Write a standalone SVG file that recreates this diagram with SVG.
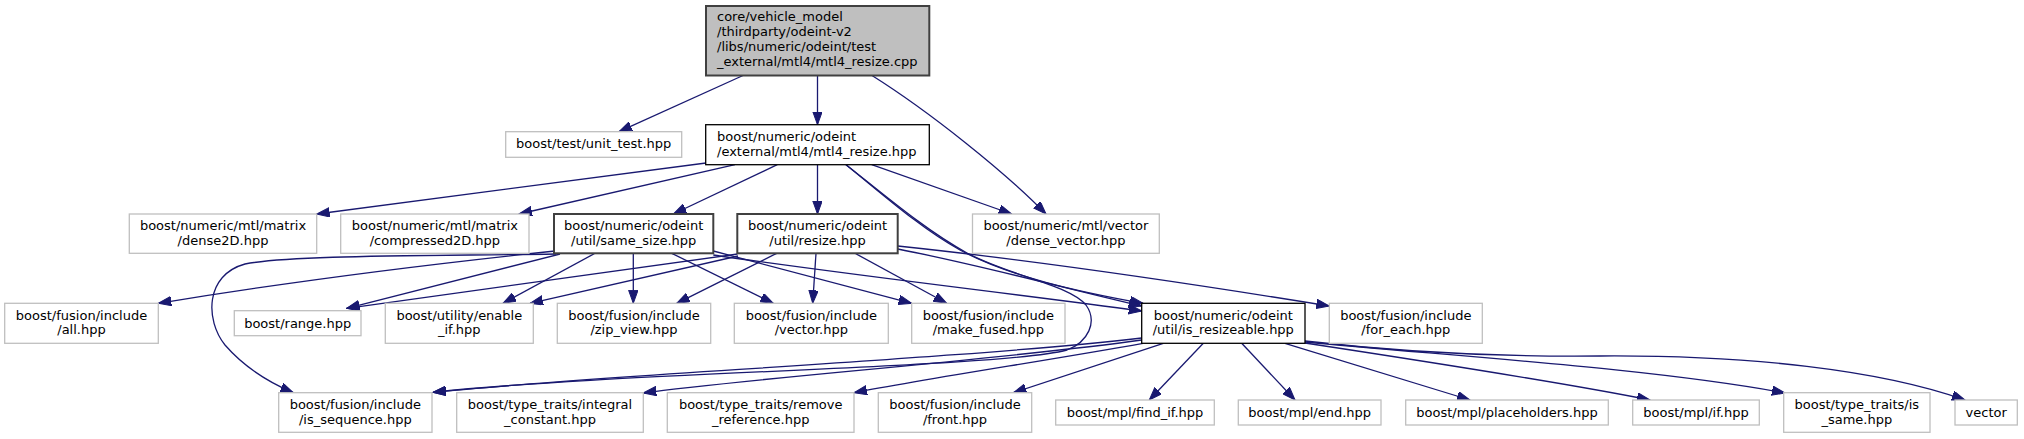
<svg xmlns="http://www.w3.org/2000/svg" width="2024" height="439" viewBox="0 0 2024 439">
<style>
text{font-family:"DejaVu Sans","Liberation Sans",sans-serif;font-size:13px;fill:#000}
.c{text-anchor:middle}
.g rect{fill:#fff;stroke:#bfbfbf;stroke-width:1.3}
.d rect{fill:#fff;stroke:#404040;stroke-width:2}
.b rect{fill:#fff;stroke:#000;stroke-width:1.3}
.r rect{fill:#bfbfbf;stroke:#404040;stroke-width:2}
#edges path{fill:none;stroke:#191970;stroke-width:1.3;marker-end:url(#ah)}
</style>
<defs>
<marker id="ah" markerUnits="userSpaceOnUse" markerWidth="14" markerHeight="10" refX="13" refY="4.7" orient="auto">
<path d="M0,0 L13,4.7 L0,9.4 Z" fill="#191970" stroke="#191970" stroke-width="1"/>
</marker>
</defs>
<rect width="2024" height="439" fill="#fff"/>
<g id="edges">
<path d="M743,75.5 L619,131.7"/>
<path d="M817.5,75.5 L817.5,124.7"/>
<path d="M872,75.5 C930,112 1005,172 1046,214"/>
<path d="M706,163 L316.7,214"/>
<path d="M735,164.7 L519,214"/>
<path d="M777.3,164.7 L673.3,214"/>
<path d="M817.5,164.7 L817.5,214"/>
<path d="M871.7,164.7 L1011.7,214"/>
<path d="M846,164.7 C880,192 920,228 960,250 C1010,277 1080,292 1143,303.3"/>
<path d="M846,164.7 C882,193 925,230 967,253 C1010,276 1070,285 1086,305 C1098,322 1088,342 1067,350 C1000,368 620,372 433,392.3"/>
<path d="M555,251 C450,262 300,280 158.3,303.3"/>
<path d="M556,254 C420,256 290,255 245,264 C205,275 205,320 225,345 C245,368 268,382 293.3,392.7"/>
<path d="M560,254 L346.7,308.3"/>
<path d="M595,253.3 L503,303.3"/>
<path d="M633.3,253.3 L633.3,303.3"/>
<path d="M671.7,253.3 L773.3,303.3"/>
<path d="M713.3,251 L911.7,303.3"/>
<path d="M713.3,255 C850,275 1000,292 1141.7,311"/>
<path d="M737.5,254 L346.7,308.3"/>
<path d="M738,256 L530,303.3"/>
<path d="M776.7,253.3 L676.7,303.3"/>
<path d="M816,253.3 L812.7,303.3"/>
<path d="M855,253.3 L946.7,303.3"/>
<path d="M897.7,249 C980,265 1060,287 1141.7,306"/>
<path d="M897.7,246 C1050,262 1200,285 1329.3,306"/>
<path d="M1141.7,338 C950,360 600,375 433,392.3"/>
<path d="M1141.7,340 C1000,360 750,378 643.3,393"/>
<path d="M1143,343.3 C1050,360 930,378 854,392.7"/>
<path d="M1163.3,343.3 L1013.3,392.7"/>
<path d="M1203.3,343.3 L1149.3,400"/>
<path d="M1241.7,343.3 L1295,400"/>
<path d="M1285,343.3 L1470,400"/>
<path d="M1305,343 C1430,362 1560,382 1650,400"/>
<path d="M1305,342 C1450,356 1650,368 1785,393"/>
<path d="M1305,341 C1400,352 1500,357 1600,356 C1750,355 1880,370 1965,400"/>
</g>
<g id="n_root" class="r"><rect x="706" y="6" width="223.3" height="69.5"/><text x="717" y="21">core/vehicle_model</text><text x="717" y="36">/thirdparty/odeint-v2</text><text x="717" y="51">/libs/numeric/odeint/test</text><text x="717" y="66">_external/mtl4/mtl4_resize.cpp</text></g>
<g id="n_unit_test" class="g"><rect x="505.7" y="131.7" width="176" height="25.6"/><text class="c" x="593.7" y="148">boost/test/unit_test.hpp</text></g>
<g id="n_mtl4_resize" class="b"><rect x="705.7" y="124.7" width="223.6" height="40"/><text x="717" y="141">boost/numeric/odeint</text><text x="717" y="155.5">/external/mtl4/mtl4_resize.hpp</text></g>
<g id="n_dense2D" class="g"><rect x="129.3" y="214" width="187.4" height="39.3"/><text class="c" x="223" y="230.2">boost/numeric/mtl/matrix</text><text class="c" x="223" y="244.7">/dense2D.hpp</text></g>
<g id="n_compressed2D" class="g"><rect x="340.7" y="214" width="188.3" height="39.3"/><text class="c" x="434.9" y="230.2">boost/numeric/mtl/matrix</text><text class="c" x="434.9" y="244.7">/compressed2D.hpp</text></g>
<g id="n_same_size" class="d"><rect x="554" y="214" width="159.3" height="39.3"/><text class="c" x="633.7" y="230.2">boost/numeric/odeint</text><text class="c" x="633.7" y="244.7">/util/same_size.hpp</text></g>
<g id="n_resize" class="d"><rect x="737.3" y="214" width="160.4" height="39.3"/><text class="c" x="817.5" y="230.2">boost/numeric/odeint</text><text class="c" x="817.5" y="244.7">/util/resize.hpp</text></g>
<g id="n_dense_vector" class="g"><rect x="972.5" y="214" width="186.8" height="39.3"/><text class="c" x="1065.9" y="230.2">boost/numeric/mtl/vector</text><text class="c" x="1065.9" y="244.7">/dense_vector.hpp</text></g>
<g id="n_all" class="g"><rect x="4.7" y="303.3" width="153.6" height="40"/><text class="c" x="81.5" y="319.8">boost/fusion/include</text><text class="c" x="81.5" y="334.3">/all.hpp</text></g>
<g id="n_range" class="g"><rect x="234.3" y="310.7" width="126.7" height="25"/><text class="c" x="297.7" y="327.5">boost/range.hpp</text></g>
<g id="n_enable_if" class="g"><rect x="385.3" y="303.3" width="148" height="40"/><text class="c" x="459.3" y="319.8">boost/utility/enable</text><text class="c" x="459.3" y="334.3">_if.hpp</text></g>
<g id="n_zip_view" class="g"><rect x="557.3" y="303.3" width="153.4" height="40"/><text class="c" x="634" y="319.8">boost/fusion/include</text><text class="c" x="634" y="334.3">/zip_view.hpp</text></g>
<g id="n_fvector" class="g"><rect x="734.3" y="303.3" width="154" height="40"/><text class="c" x="811.3" y="319.8">boost/fusion/include</text><text class="c" x="811.3" y="334.3">/vector.hpp</text></g>
<g id="n_make_fused" class="g"><rect x="911.7" y="303.3" width="153.3" height="40"/><text class="c" x="988.3" y="319.8">boost/fusion/include</text><text class="c" x="988.3" y="334.3">/make_fused.hpp</text></g>
<g id="n_is_resizeable" class="b"><rect x="1141.7" y="303.3" width="163.3" height="40"/><text class="c" x="1223.3" y="319.8">boost/numeric/odeint</text><text class="c" x="1223.3" y="334.3">/util/is_resizeable.hpp</text></g>
<g id="n_for_each" class="g"><rect x="1329.3" y="303.3" width="153" height="40"/><text class="c" x="1405.8" y="319.8">boost/fusion/include</text><text class="c" x="1405.8" y="334.3">/for_each.hpp</text></g>
<g id="n_is_sequence" class="g"><rect x="278.7" y="392.7" width="153.3" height="39.6"/><text class="c" x="355.3" y="409">boost/fusion/include</text><text class="c" x="355.3" y="423.5">/is_sequence.hpp</text></g>
<g id="n_integral_constant" class="g"><rect x="456.7" y="392.7" width="186.6" height="39.6"/><text class="c" x="550" y="409">boost/type_traits/integral</text><text class="c" x="550" y="423.5">_constant.hpp</text></g>
<g id="n_remove_reference" class="g"><rect x="667.3" y="392.7" width="186.7" height="39.6"/><text class="c" x="760.7" y="409">boost/type_traits/remove</text><text class="c" x="760.7" y="423.5">_reference.hpp</text></g>
<g id="n_front" class="g"><rect x="878.3" y="392.7" width="153.4" height="39.6"/><text class="c" x="955" y="409">boost/fusion/include</text><text class="c" x="955" y="423.5">/front.hpp</text></g>
<g id="n_find_if" class="g"><rect x="1055.7" y="400" width="158.6" height="25"/><text class="c" x="1135" y="416.5">boost/mpl/find_if.hpp</text></g>
<g id="n_end" class="g"><rect x="1238.3" y="400" width="142.7" height="25"/><text class="c" x="1309.7" y="416.5">boost/mpl/end.hpp</text></g>
<g id="n_placeholders" class="g"><rect x="1405.7" y="400" width="202.6" height="25"/><text class="c" x="1507" y="416.5">boost/mpl/placeholders.hpp</text></g>
<g id="n_if" class="g"><rect x="1632.7" y="400" width="126.6" height="25"/><text class="c" x="1696" y="416.5">boost/mpl/if.hpp</text></g>
<g id="n_is_same" class="g"><rect x="1783.7" y="392.7" width="146.3" height="39.6"/><text class="c" x="1856.8" y="409">boost/type_traits/is</text><text class="c" x="1856.8" y="423.5">_same.hpp</text></g>
<g id="n_vector" class="g"><rect x="1955" y="400" width="62.3" height="25"/><text class="c" x="1986.2" y="416.5">vector</text></g>
</svg>
